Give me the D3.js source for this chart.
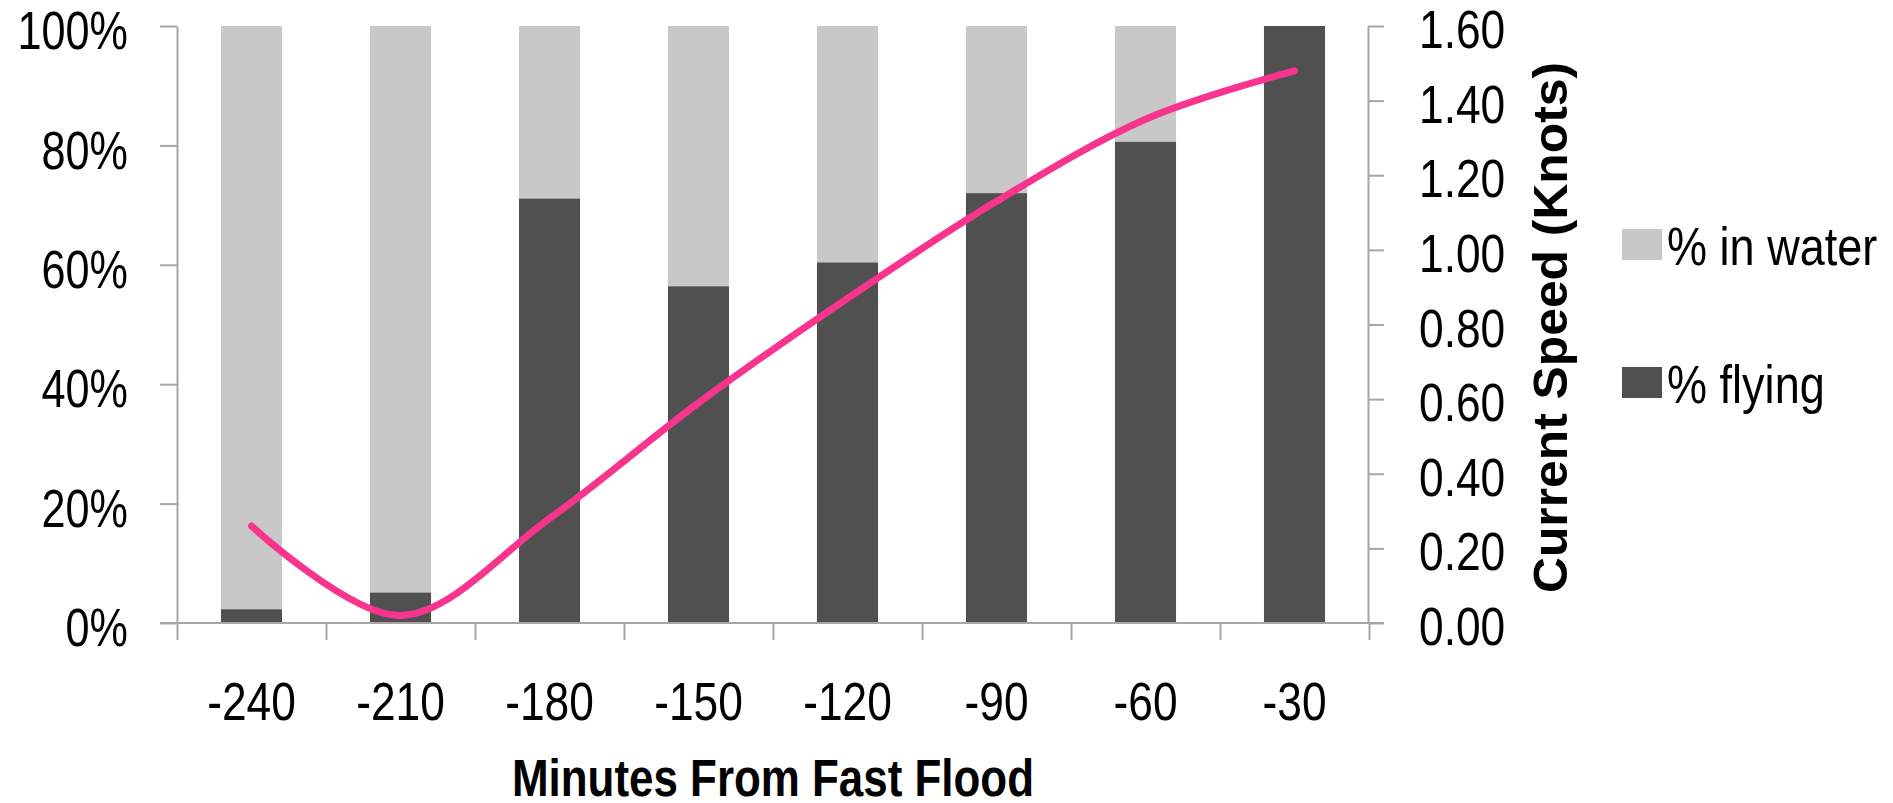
<!DOCTYPE html>
<html>
<head>
<meta charset="utf-8">
<script src="https://cdn.jsdelivr.net/npm/d3@7"></script>
<style>
  html, body { margin: 0; padding: 0; background: #ffffff; }
  svg { display: block; }
  text { font-family: "Liberation Sans", Arial, sans-serif; fill: #000; }
</style>
</head>
<body>
<svg id="chart" width="1893" height="803"></svg>
<script>
// ---- data ----
const categories = ["-240", "-210", "-180", "-150", "-120", "-90", "-60", "-30"];
const flying     = [2.3, 5.1, 71.1, 56.4, 60.4, 72.0, 80.6, 100];
const inWater    = [97.7, 94.9, 28.9, 43.6, 39.6, 28.0, 19.4, 0];
const speed      = [0.26, 0.02, 0.28, 0.59, 0.87, 1.13, 1.35, 1.48];
const leftTicks  = [0, 20, 40, 60, 80, 100];
const rightTicks = [0, 0.2, 0.4, 0.6, 0.8, 1.0, 1.2, 1.4, 1.6];
const seriesNames = ["% in water", "% flying"];
const xTitle = "Minutes From Fast Flood";
const yRightTitle = "Current Speed (Knots)";

// ---- layout ----
const plot = { left: 177, right: 1369, top: 26, bottom: 623 };
const colors = { water: "#c8c8c8", flying: "#505050", line: "#f9348f", axis: "#a6a6a6" };
const FONT = "Liberation Sans, Arial, sans-serif";

const svg = d3.select("#chart");

// horizontally condense text (reference uses a narrow font)
function narrow(sel, f) {
  sel.each(function () {
    const w = this.getComputedTextLength();
    d3.select(this).attr("textLength", w * f).attr("lengthAdjust", "spacingAndGlyphs");
  });
}

const x = d3.scaleBand().domain(categories).range([plot.left, plot.right])
  .paddingInner(0.59).paddingOuter(0.295);
const xb = d3.scaleLinear().domain([0, categories.length]).range([plot.left, plot.right]);
const yL = d3.scaleLinear().domain([0, 100]).range([plot.bottom, plot.top]);
const yR = d3.scaleLinear().domain([0, 1.6]).range([plot.bottom, plot.top]);

// ---- bars (stacked 100%) ----
const rows = categories.map((c, i) => ({ c, f: flying[i], w: inWater[i] }));
const gBars = svg.append("g");
gBars.selectAll("rect.w").data(rows).join("rect")
  .attr("x", d => x(d.c)).attr("width", x.bandwidth())
  .attr("y", d => yL(d.f + d.w)).attr("height", d => yL(d.f) - yL(d.f + d.w))
  .attr("fill", colors.water);
gBars.selectAll("rect.f").data(rows).join("rect")
  .attr("x", d => x(d.c)).attr("width", x.bandwidth())
  .attr("y", d => yL(d.f)).attr("height", d => yL(0) - yL(d.f))
  .attr("fill", colors.flying);

// ---- axes ----
function styleAxis(g) {
  g.selectAll("path.domain").attr("stroke", colors.axis).attr("stroke-width", 2);
  g.selectAll(".tick line").attr("stroke", colors.axis).attr("stroke-width", 2);
}

const axL = svg.append("g").attr("transform", `translate(${plot.left},0)`)
  .call(d3.axisLeft(yL).tickValues(leftTicks).tickSize(17).tickSizeOuter(0)
    .tickFormat(d => d + "%").tickPadding(32));
styleAxis(axL);
axL.selectAll("text").attr("font-size", 54).attr("dy", "0.42em").attr("text-anchor", "end")
  .attr("font-family", FONT).attr("fill", "#000").call(narrow, 0.8);

const axR = svg.append("g").attr("transform", `translate(${plot.right - 1},0)`)
  .call(d3.axisRight(yR).tickValues(rightTicks).tickSize(16).tickSizeOuter(0)
    .tickFormat(d3.format(".2f")).tickPadding(35));
styleAxis(axR);
axR.selectAll("text").attr("font-size", 54).attr("dy", "0.40em")
  .attr("font-family", FONT).attr("fill", "#000").call(narrow, 0.82);

// x axis baseline + boundary ticks
const axB = svg.append("g").attr("transform", `translate(0,${plot.bottom})`)
  .call(d3.axisBottom(xb).tickValues(d3.range(categories.length + 1)).tickSize(17)
    .tickSizeOuter(0).tickFormat(""));
styleAxis(axB);
axB.select("path.domain").attr("d", `M${plot.left - 17},0H${plot.right + 15}`);

// category labels
const axC = svg.append("g").attr("transform", `translate(0,${plot.bottom})`)
  .call(d3.axisBottom(x).tickSize(0).tickPadding(0));
axC.select("path.domain").remove();
axC.selectAll("text").attr("font-size", 54).attr("dy", null).attr("y", 97)
  .attr("font-family", FONT).attr("fill", "#000").call(narrow, 0.82);

// ---- speed line ----
const line = d3.line()
  .x((d, i) => x(categories[i]) + x.bandwidth() / 2)
  .y(d => yR(d))
  .curve(d3.curveCardinal.tension(0));
svg.append("path").datum(speed)
  .attr("d", line).attr("fill", "none")
  .attr("stroke", colors.line).attr("stroke-width", 7)
  .attr("stroke-linecap", "round").attr("stroke-linejoin", "round");

// ---- titles ----
svg.append("text").attr("x", (plot.left + plot.right) / 2).attr("y", 796)
  .attr("text-anchor", "middle").attr("font-size", 51).attr("font-weight", "bold")
  .attr("textLength", 522).attr("lengthAdjust", "spacingAndGlyphs")
  .text(xTitle);

svg.append("text")
  .attr("transform", `translate(1567,${(plot.top + plot.bottom) / 2 + 3}) rotate(-90)`)
  .attr("text-anchor", "middle").attr("font-size", 49).attr("font-weight", "bold")
  .attr("textLength", 531).attr("lengthAdjust", "spacingAndGlyphs")
  .text(yRightTitle);

// ---- legend ----
const legend = svg.append("g");
const legendItems = [
  { name: seriesNames[0], color: colors.water, y: 229 },
  { name: seriesNames[1], color: colors.flying, y: 367 }
];
legend.selectAll("rect").data(legendItems).join("rect")
  .attr("x", 1622).attr("y", d => d.y).attr("width", 40).attr("height", 31)
  .attr("fill", d => d.color);
legend.selectAll("text").data(legendItems).join("text")
  .attr("x", 1667).attr("y", d => d.y + 36).attr("font-size", 53)
  .text(d => d.name).call(narrow, 0.85);
</script>
</body>
</html>
